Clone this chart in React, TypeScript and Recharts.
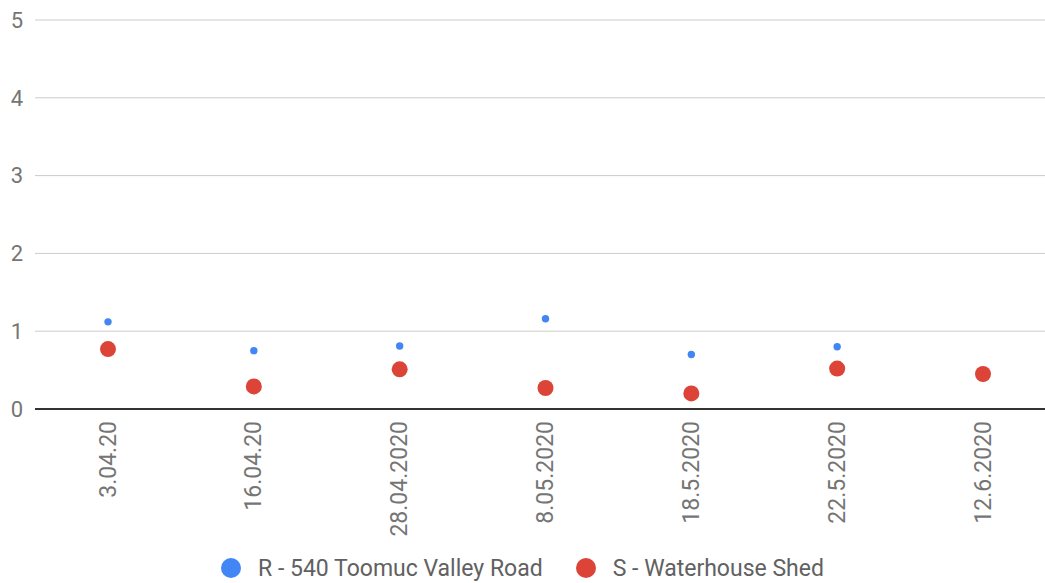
import { LineChart, Line, XAxis, YAxis, CartesianGrid, Legend } from 'recharts';

const dates = ['3.04.20', '16.04.20', '28.04.2020', '8.05.2020', '18.5.2020', '22.5.2020', '12.6.2020'];
const rValues: (number | null)[] = [1.12, 0.75, 0.81, 1.16, 0.7, 0.8, null];
const sValues: number[] = [0.77, 0.29, 0.51, 0.27, 0.2, 0.52, 0.45];
const yTicks = [0, 1, 2, 3, 4, 5];

const seriesNames = { r: 'R - 540 Toomuc Valley Road', s: 'S - Waterhouse Shed' };
const blue = '#4285f4';
const red = '#db4437';

const data = dates.map((date, i) => ({ date, r: rValues[i], s: sValues[i] }));

const fontFamily = 'Roboto, sans-serif';

const DateTick = (props: any) => {
    const { x, y, payload } = props;
    return (
        <text
            x={x}
            y={y}
            transform={`rotate(-90 ${x} ${y})`}
            textAnchor='end'
            dominantBaseline='central'
            fill='#757575'
            fontSize={23}
            fontFamily={fontFamily}
        >
            {payload.value}
        </text>
    );
};

const LegendContent = () => (
    <div
        style={{
            display: 'flex',
            justifyContent: 'center',
            alignItems: 'center',
            height: 30,
            fontFamily,
            fontSize: 23,
            color: '#616161',
        }}
    >
        {[
            { name: seriesNames.r, color: blue },
            { name: seriesNames.s, color: red },
        ].map((item, idx) => (
            <div key={item.name} style={{ display: 'flex', alignItems: 'center', marginLeft: idx ? 33 : 0 }}>
                <svg width={20} height={20} style={{ marginRight: 17 }}>
                    <circle cx={10} cy={10} r={10} fill={item.color} />
                </svg>
                <span>{item.name}</span>
            </div>
        ))}
    </div>
);

const App = () => {
    return (
        <div
            style={{
                position: 'absolute',
                left: 0,
                top: 0,
                width: 1045,
                height: 583,
                overflow: 'hidden',
                background: '#fff',
            }}
        >
            <LineChart width={1060} height={583} data={data} margin={{ top: 20, right: 4, left: 0, bottom: 0 }}>
                <CartesianGrid vertical={false} stroke='#cccccc' />
                <XAxis
                    dataKey='date'
                    padding={{ left: 73, right: 73 }}
                    height={144}
                    tickLine={false}
                    tickMargin={6}
                    axisLine={{ stroke: '#333', strokeWidth: 2 }}
                    tick={<DateTick />}
                    interval={0}
                />
                <YAxis
                    domain={[0, 5]}
                    ticks={yTicks}
                    width={35}
                    axisLine={false}
                    tickLine={false}
                    tickMargin={6}
                    tick={{ fill: '#757575', fontSize: 22, fontFamily }}
                />
                <Legend verticalAlign='bottom' content={<LegendContent />} wrapperStyle={{ left: 0, width: 1045 }} />
                <Line
                    dataKey='r'
                    name={seriesNames.r}
                    stroke='none'
                    dot={{ r: 3.7, fill: blue, stroke: 'none' }}
                    activeDot={false}
                    isAnimationActive={false}
                />
                <Line
                    dataKey='s'
                    name={seriesNames.s}
                    stroke='none'
                    dot={{ r: 8, fill: red, stroke: 'none' }}
                    activeDot={false}
                    isAnimationActive={false}
                />
            </LineChart>
        </div>
    );
};

export default App;
